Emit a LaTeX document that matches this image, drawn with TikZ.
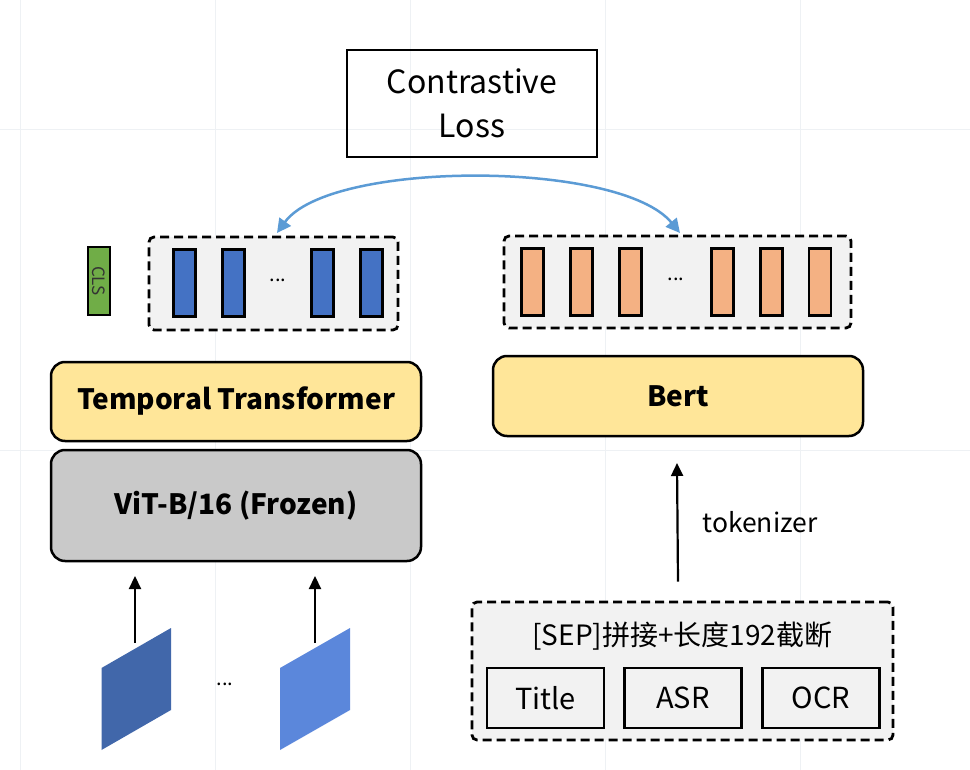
\documentclass[tikz,border=0pt]{standalone}
\usepackage{fontspec}
\setmainfont{Noto Sans CJK SC}
\usetikzlibrary{arrows.meta}
\definecolor{gridc}{HTML}{EEF1F4}
\definecolor{boxgray}{HTML}{F2F2F2}
\definecolor{barblue}{HTML}{4472C4}
\definecolor{barorange}{HTML}{F4B183}
\definecolor{clsgreen}{HTML}{70AD47}
\definecolor{yel}{HTML}{FFE699}
\definecolor{vitgray}{HTML}{C9C9C9}
\definecolor{arcblue}{HTML}{5B9BD5}
\definecolor{patchA}{HTML}{4167AA}
\definecolor{patchB}{HTML}{5B87DB}
\tikzset{
  dashbox/.style={draw=black, line width=2.8pt, dash pattern=on 9pt off 5pt, fill=boxgray, rounded corners=5pt},
  bluebar/.style={draw=black, line width=2.5pt, fill=barblue, minimum width=22pt, minimum height=67pt, inner sep=0pt},
  orangebar/.style={draw=black, line width=2.5pt, fill=barorange, minimum width=22pt, minimum height=67pt, inner sep=0pt},
  modbox/.style={draw=black, line width=2.5pt, rounded corners=14pt, minimum width=370pt, font=\fontsize{28}{32}\selectfont\bfseries},
  txtbox/.style={draw=black, line width=2.5pt, fill=boxgray, minimum width=117pt, minimum height=60pt, inner sep=0pt, font=\fontsize{29}{34}\selectfont},
  uparrow/.style={line width=2.2pt, -{Triangle[length=13pt,width=12pt]}},
  dots/.style={font=\fontsize{20}{22}\selectfont}
}
\begin{document}
\begin{tikzpicture}[x=1pt,y=-1pt]
\useasboundingbox (0,0) rectangle (970,770);
\fill[white] (0,0) rectangle (970,770);
% faint grid
\foreach \gx in {20,215,410,605,800} \draw[gridc, line width=1pt] (\gx,0) -- (\gx,770);
\foreach \gy in {130,450,770} \draw[gridc, line width=1pt] (0,\gy) -- (970,\gy);

% Contrastive loss
\node[draw=black, line width=2.5pt, minimum width=250pt, minimum height=107pt, align=center,
      font=\fontsize{32}{44}\selectfont] (loss) at (472,103.5) {Contrastive\\Loss};

% left token box
\node[dashbox, minimum width=249pt, minimum height=93pt] (vbox) at (273.5,283.5) {};
\node[bluebar] (b1) at (184.5,283) {};
\node[bluebar] (b2) at (233.5,283) {};
\node[dots] (vd) at (278,280) {...};
\node[bluebar] (b3) at (322.5,283) {};
\node[bluebar] (b4) at (371.5,283) {};
\node[draw=black, line width=2.5pt, fill=clsgreen, minimum width=22pt, minimum height=68pt, inner sep=0pt] (cls) at (99,281) {};
\node[rotate=-90, font=\fontsize{17}{19}\selectfont, text=black!80] at (cls.center) {CLS};

% right token box
\node[dashbox, minimum width=347pt, minimum height=92pt] (tbox) at (677.5,282) {};
\node[orangebar] (o1) at (532.5,282) {};
\node[orangebar] (o2) at (581.5,282) {};
\node[orangebar] (o3) at (630.5,282) {};
\node[dots] (td) at (676,279) {...};
\node[orangebar] (o4) at (722.5,282) {};
\node[orangebar] (o5) at (771.5,282) {};
\node[orangebar] (o6) at (820,282) {};

% contrastive arc
\coordinate (arcL) at (277,233);
\coordinate (arcR) at (680,233);
\draw[arcblue, line width=2.5pt, {Triangle[length=14pt,width=14pt]}-{Triangle[length=14pt,width=14pt]}]
  (arcL) .. controls (330,160) and (620,160) .. (arcR);

% modules
\node[modbox, fill=yel, minimum height=79pt] (tt) at (236,401.5) {Temporal Transformer};
\node[modbox, fill=vitgray, minimum height=111pt] (vit) at (236,505.5) {ViT-B/16 (Frozen)};
\node[modbox, fill=yel, minimum height=80pt] (bert) at (678,396) {Bert};

% text input
\node[dashbox, minimum width=421pt, minimum height=138pt] (inbox) at (682.5,671) {};
\node[font=\fontsize{28}{32}\selectfont] (sep) at (682.5,636) {[SEP]拼接+长度192截断};
\node[txtbox] (title) at (545.5,698) {Title};
\node[txtbox] (asr) at (683,698) {ASR};
\node[txtbox] (ocr) at (821,698) {OCR};

\draw[uparrow] (inbox.north -| bert) ++(0,-19) coordinate (tkS) -- (677,463) coordinate (tkE);
\node[font=\fontsize{26.5}{30}\selectfont] (tok) at (760,522) {tokenizer};

% frames
\fill[patchA] (101.5,668) -- (171,628) -- (171,710) -- (101.5,750) -- cycle;
\fill[patchB] (280,668) -- (350,628) -- (350,710) -- (280,750) -- cycle;
\coordinate (f1) at (135,643);
\coordinate (f2) at (315,643);
\draw[uparrow] (f1) -- (135,576);
\draw[uparrow] (f2) -- (315,576);
\node[dots] (fd) at (225,684) {...};
\end{tikzpicture}
\end{document}
